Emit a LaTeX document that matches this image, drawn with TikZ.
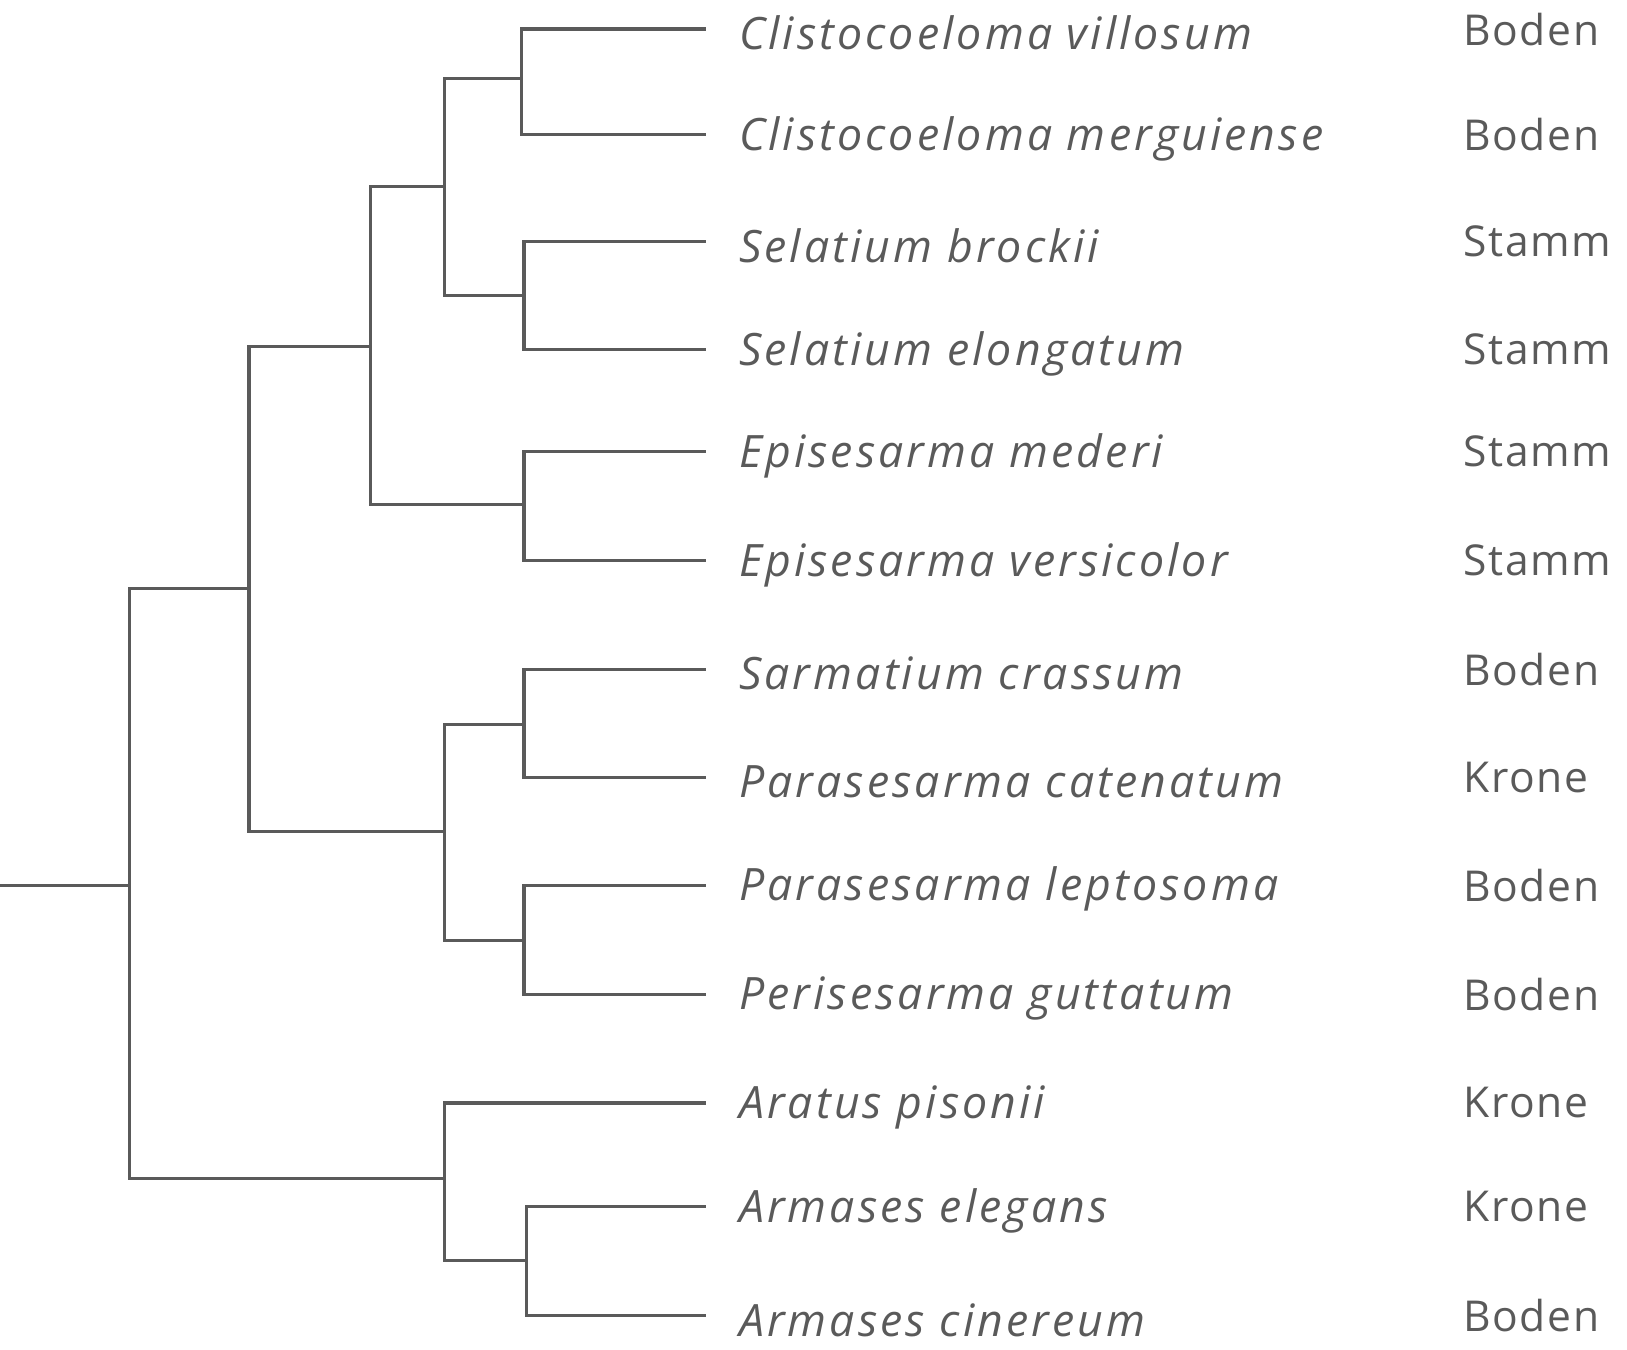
\documentclass[tikz,border=0pt]{standalone}
\usepackage{fontspec}
\setmainfont{Open Sans}[LetterSpace=4]
\newfontfamily\spfont{Open Sans}[LetterSpace=7]
\definecolor{tc}{HTML}{5A5A5A}
\begin{document}
\begin{tikzpicture}[x=1pt,y=-1pt,
  br/.style={draw=tc,line width=3pt},
  sp/.style={anchor=west,text=tc,font=\spfont\fontsize{43}{46}\selectfont\itshape,inner sep=0pt},
  hab/.style={anchor=west,text=tc,font=\fontsize{41}{44}\selectfont,inner sep=0pt}]
\useasboundingbox (0,0) rectangle (1568,1301);
\foreach \n/\y/\s/\h in {1/28/Clistocoeloma villosum/Boden,2/130/Clistocoeloma merguiense/Boden,3/233/Selatium brockii/Stamm,4/337/Selatium elongatum/Stamm,5/435/Episesarma mederi/Stamm,6/540/Episesarma versicolor/Stamm,7/645/Sarmatium crassum/Boden,8/749/Parasesarma catenatum/Krone,9/853/Parasesarma leptosoma/Boden,10/958/Perisesarma guttatum/Boden,11/1063/Aratus pisonii/Krone,12/1163/Armases elegans/Krone,13/1268/Armases cinereum/Boden}{
  \coordinate (l\n) at (680,\y);
  \node[sp] (s\n) at (712,\y+4) {\s};
  \node[hab] (h\n) at (1410,\y) {\h};
}
% internal nodes
\coordinate (A) at (503,76);  \coordinate (B) at (505,285);
\coordinate (C) at (428,180); \coordinate (D) at (505,486);
\coordinate (E) at (357,334); \coordinate (F) at (505,698);
\coordinate (G) at (505,906); \coordinate (H) at (428,801);
\coordinate (I) at (240,567); \coordinate (J) at (507,1215);
\coordinate (K) at (428,1136);\coordinate (L) at (125,853);
\coordinate (R) at (0,853);
\newcommand{\bra}[3]{\draw[br] (#2) -| (#1) |- (#3);}
\bra{A}{l1}{l2}
\bra{B}{l3}{l4}
\bra{C}{A}{B}
\bra{D}{l5}{l6}
\bra{E}{C}{D}
\bra{F}{l7}{l8}
\bra{G}{l9}{l10}
\bra{H}{F}{G}
\bra{I}{E}{H}
\bra{J}{l12}{l13}
\bra{K}{l11}{J}
\bra{L}{I}{K}
\draw[br] (R) -- (L);
\end{tikzpicture}
\end{document}
